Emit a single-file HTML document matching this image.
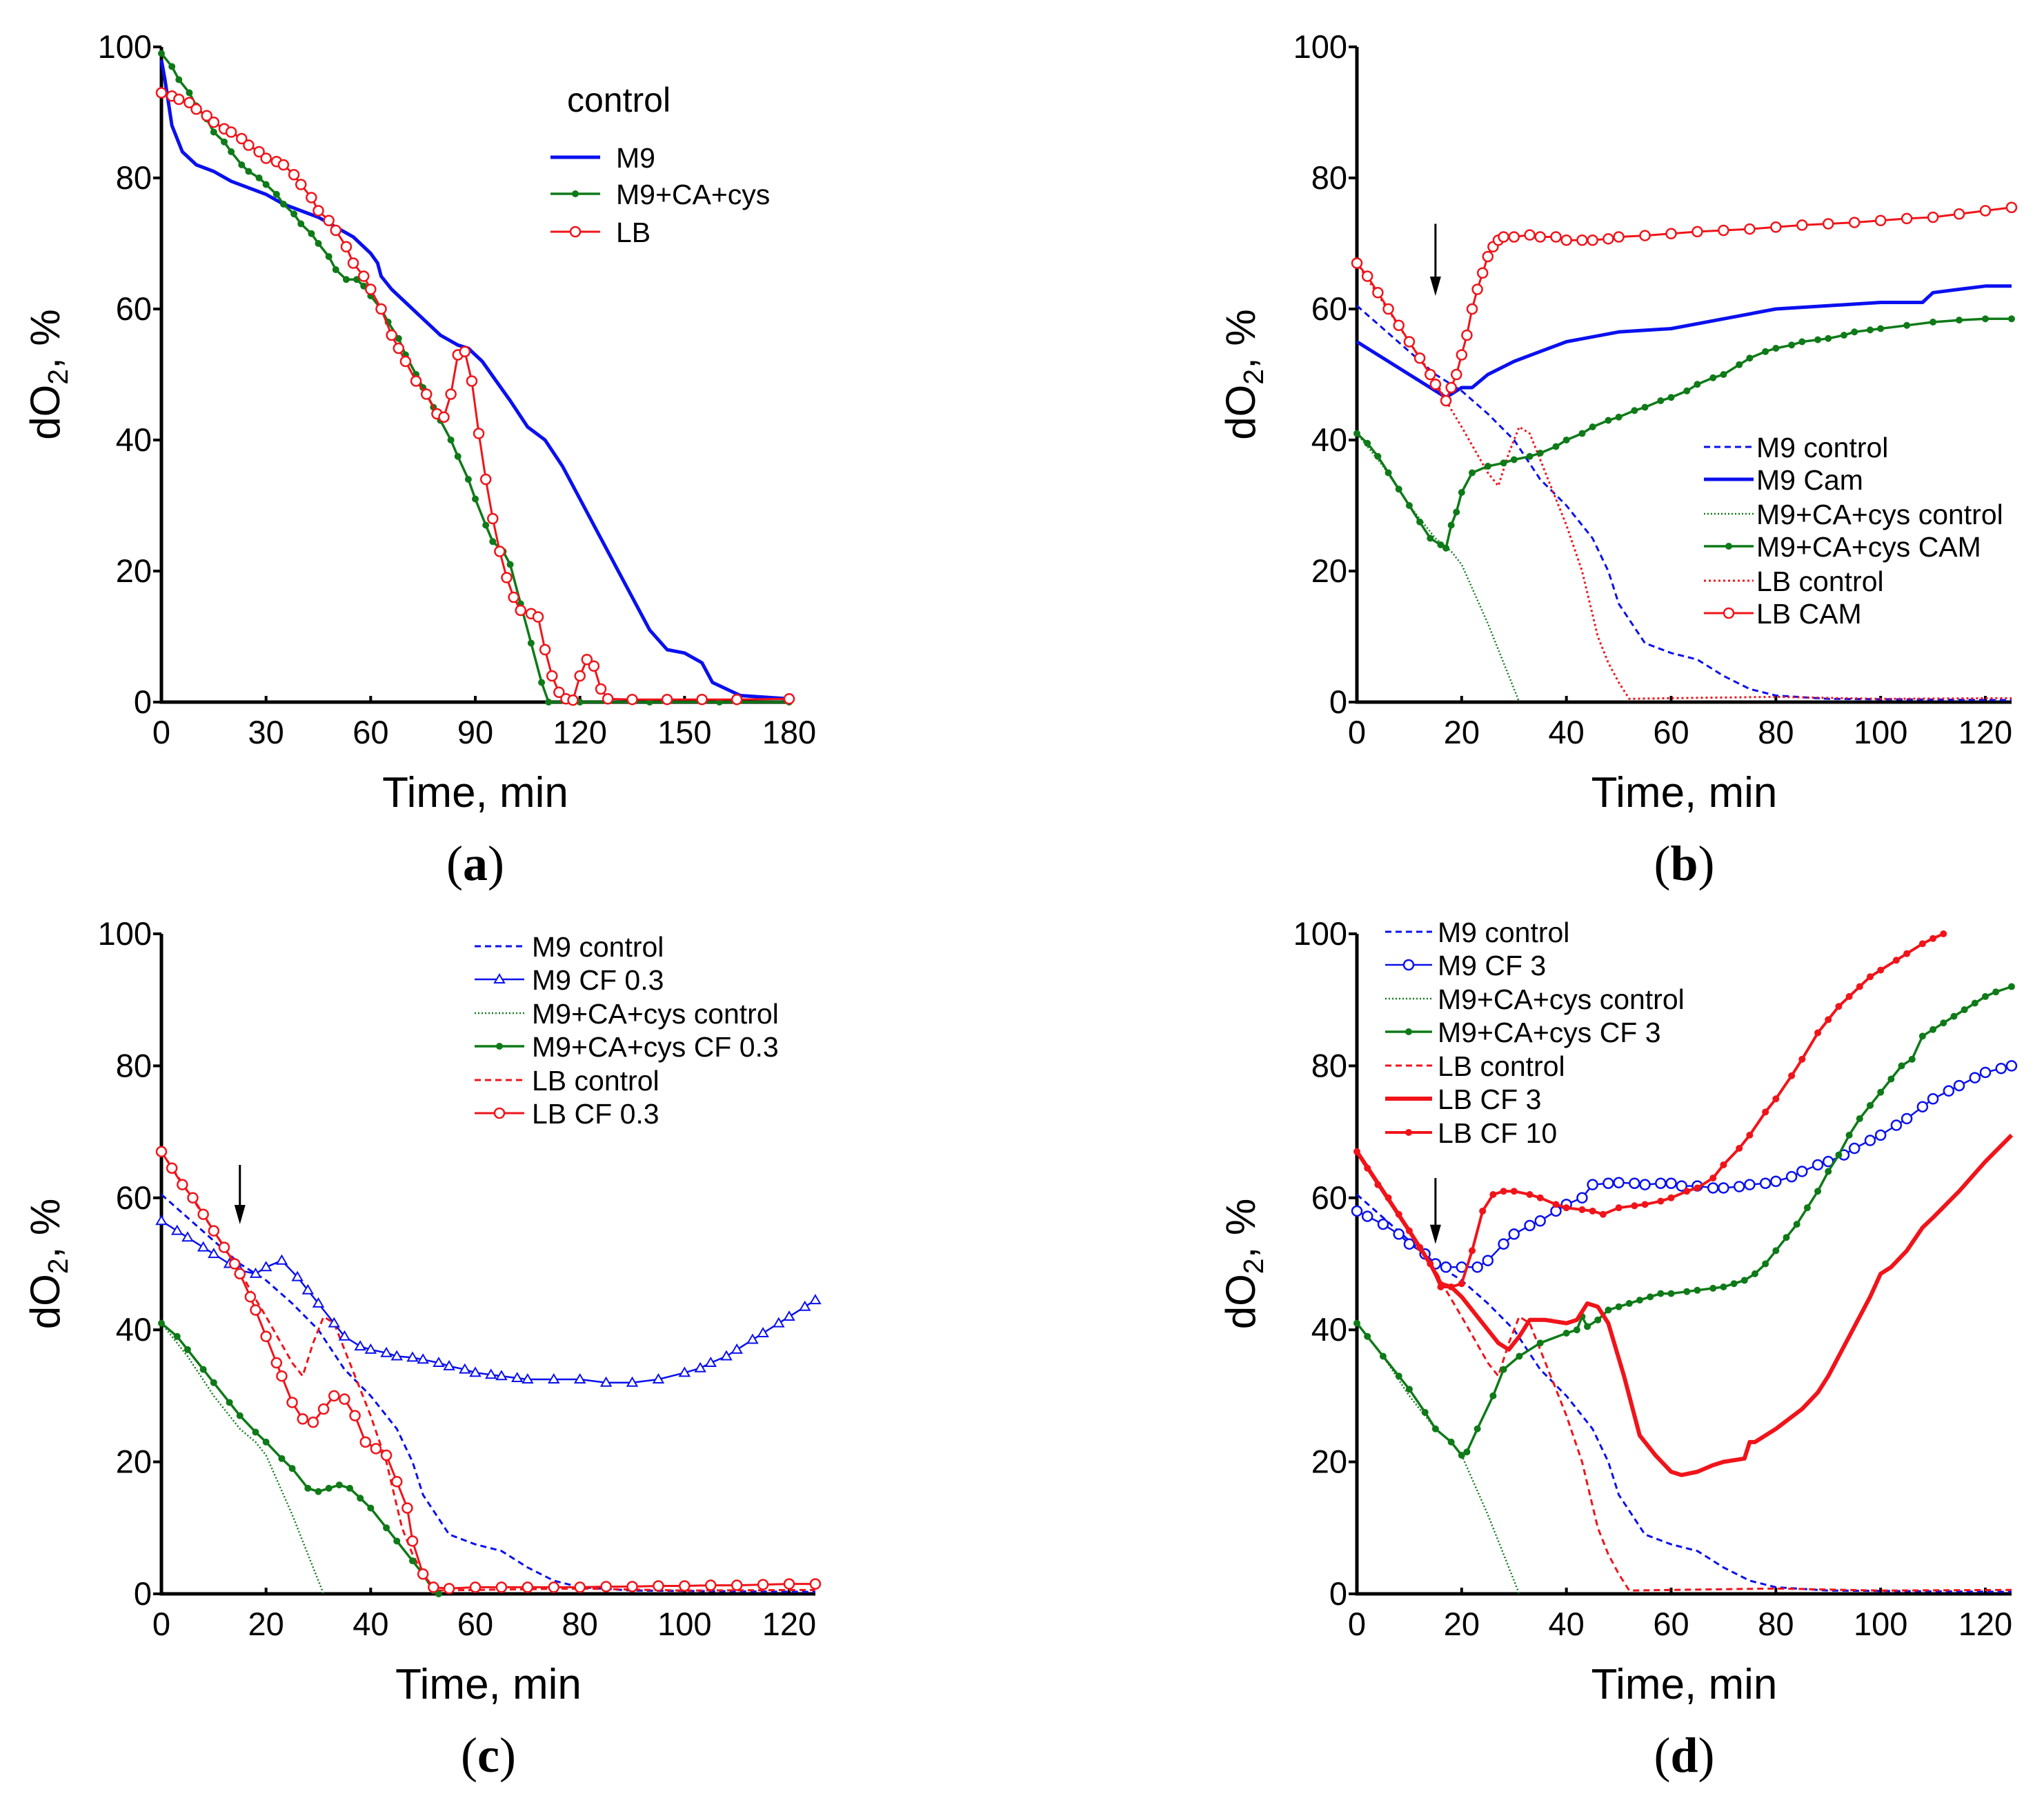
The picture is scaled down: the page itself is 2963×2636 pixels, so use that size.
<!DOCTYPE html>
<html><head><meta charset="utf-8"><style>
html,body{margin:0;padding:0;background:#fff;}
svg{display:block;font-family:"Liberation Sans",Arial,sans-serif;}
</style></head><body>
<svg id="chart" width="2963" height="2636" viewBox="0 0 2963 2636" xmlns="http://www.w3.org/2000/svg"></svg>
<script>
// ---------- data (time min, dO2 %) ----------
const aM9=[[0,98],[1,95],[3,88],[6,84],[10,82],[15,81],[20,79.5],[25,78.5],[30,77.5],[35,76],[40,75],[45,74],[50,72.5],[55,71],[60,68.5],[62,67],[63,65],[66,63],[70,61],[75,58.5],[80,56],[85,54.5],[88,54],[92,52],[96,49],[100,46],[105,42],[110,40],[115,36],[120,31],[125,26],[130,21],[135,16],[140,11],[145,8],[150,7.5],[155,6],[158,3],[162,2],[166,1],[180,0.5]];
const aGreen=[[0,99],[3,97],[5,95],[8,93],[10,91],[13,89],[15,87],[18,85.5],[20,84],[23,82],[25,81],[28,80],[30,79],[33,77.5],[35,76],[38,74.5],[40,73],[43,71.5],[45,70],[48,68],[50,66],[53,64.5],[56,64.5],[58,63.5],[60,62],[63,60],[65,58],[68,55.5],[70,53],[73,50],[75,48],[78,45],[80,43],[83,40],[85,37.5],[88,34],[90,31],[93,27],[95,24.5],[98,23],[100,21],[103,15],[106,9],[109,3],[111,0],[120,0],[140,0],[160,0],[180,0]];
const aLB=[[0,93],[3,92.5],[5,92],[8,91.5],[10,90.5],[13,89.5],[15,88.5],[18,87.5],[20,87],[23,86],[25,85],[28,84],[30,83],[33,82.5],[35,82],[38,80.5],[40,79],[43,77],[45,75],[48,73.5],[50,72],[53,69.5],[55,67],[58,65],[60,63],[63,60],[66,56],[68,54],[70,52],[73,49],[76,47],[79,44],[81,43.5],[83,47],[85,53],[87,53.5],[89,49],[91,41],[93,34],[95,28],[97,23],[99,19],[101,16],[103,14],[106,13.5],[108,13],[110,8],[112,4],[114,1.5],[116,0.5],[118,0.3],[120,4],[122,6.5],[124,5.5],[126,2],[128,0.5],[135,0.4],[145,0.4],[155,0.4],[165,0.4],[180,0.5]];

const m9Control=[[0,60.5],[5,57],[10,53.5],[15,50],[20,47.5],[25,44],[30,40],[35,34],[40,30],[45,25],[48,20],[50,15],[55,9],[60,7.5],[65,6.5],[70,4],[75,2],[80,1],[90,0.5],[125,0.3]];
const greenControl=[[0,41],[5,36],[10,30],[15,25],[18,23],[20,21],[25,12],[28,6],[30,2],[31,0]];
const lbControl=[[0,67],[5,61],[10,55],[15,49],[17,46],[20,42],[25,35],[27,33],[29,38],[31,42],[33,41],[36,35],[40,27],[43,20],[46,10],[48,6],[50,3],[52,0.5],[60,0.6],[80,0.8],[100,0.5],[125,0.6]];

const bM9Cam=[[0,55],[5,52.5],[10,50],[15,47.5],[17,46.5],[20,48],[22,48],[25,50],[30,52],[35,53.5],[40,55],[50,56.5],[60,57],[70,58.5],[80,60],[90,60.5],[100,61],[108,61],[110,62.5],[115,63],[120,63.5],[125,63.5]];
const bGreenCam=[[0,41],[2,39.5],[4,37.5],[6,35],[8,32.5],[10,30],[12,27.5],[14,25],[16,24],[17,23.5],[18,27],[19,29],[20,32],[22,35],[25,36],[28,36.5],[30,37],[33,37.5],[35,38],[38,39],[40,40],[43,41],[45,42],[48,43],[50,43.5],[53,44.5],[55,45],[58,46],[60,46.5],[63,47.5],[65,48.5],[68,49.5],[70,50],[73,51.5],[75,52.5],[78,53.5],[80,54],[83,54.5],[85,55],[88,55.3],[90,55.5],[93,56],[95,56.5],[98,56.8],[100,57],[105,57.5],[110,58],[115,58.3],[120,58.5],[125,58.5]];
const bLBCam=[[0,67],[2,65],[4,62.5],[6,60],[8,57.5],[10,55],[12,52.5],[14,50],[15,48.5],[17,46],[18,48],[19,50],[20,53],[21,56],[22,60],[23,63],[24,65.5],[25,68],[26,69.5],[27,70.5],[28,71],[30,71],[33,71.3],[35,71],[38,71],[40,70.5],[43,70.5],[45,70.5],[48,70.7],[50,71],[55,71.2],[60,71.5],[65,71.8],[70,72],[75,72.2],[80,72.5],[85,72.8],[90,73],[95,73.2],[100,73.5],[105,73.8],[110,74],[115,74.5],[120,75],[125,75.5]];

const cM9CF=[[0,56.5],[3,55],[5,54],[8,52.5],[10,51.5],[13,50],[15,49],[18,48.5],[20,49.5],[23,50.5],[26,48],[28,46],[30,44],[33,41],[35,39],[38,37.5],[40,37],[43,36.5],[45,36],[48,35.8],[50,35.5],[53,35],[55,34.5],[58,34],[60,33.5],[63,33.2],[65,33],[68,32.7],[70,32.5],[75,32.5],[80,32.5],[85,32],[90,32],[95,32.5],[100,33.5],[103,34.2],[105,35],[108,36],[110,37],[113,38.5],[115,39.5],[118,41],[120,42],[123,43.5],[125,44.5]];
const cGreenCF=[[0,41],[3,39],[5,37],[8,34],[10,32],[13,29],[15,27],[18,24.5],[20,23],[23,20.5],[25,19],[28,16],[30,15.5],[32,16],[34,16.5],[36,16],[38,14.5],[40,13],[43,10],[45,8],[48,5],[50,3],[52,0.5],[53,0]];
const cLBCF=[[0,67],[2,64.5],[4,62],[6,60],[8,57.5],[10,55],[12,52.5],[14,50],[15,48.5],[17,45],[18,43],[20,39],[22,35],[23,33],[25,29],[27,26.5],[29,26],[31,28],[33,30],[35,29.5],[37,27],[39,23],[41,22],[43,21],[45,17],[47,13],[48,8],[50,3],[52,1],[55,0.8],[60,1],[65,1],[70,1],[75,1],[80,1],[85,1.1],[90,1.1],[95,1.2],[100,1.2],[105,1.3],[110,1.3],[115,1.4],[120,1.5],[125,1.5]];

const dM9CF=[[0,58],[2,57.2],[5,56],[8,54.5],[10,53],[13,51.5],[15,50],[17,49.5],[20,49.5],[23,49.5],[25,50.5],[28,53],[30,54.5],[33,55.8],[35,56.5],[38,58],[40,59],[43,60],[45,62],[48,62.2],[50,62.3],[53,62.2],[55,62],[58,62.2],[60,62.2],[62,61.8],[65,61.8],[68,61.5],[70,61.5],[73,61.7],[75,62],[78,62.2],[80,62.5],[83,63.2],[85,64],[88,65],[90,65.5],[93,66.5],[95,67.5],[98,68.7],[100,69.5],[103,71],[105,72],[108,73.8],[110,75],[113,76.2],[115,77],[118,78.2],[120,79],[123,79.6],[125,80]];
const dGreenCF=[[0,41],[2,39],[5,36],[8,33],[10,31],[13,27.5],[15,25],[18,23],[20,21],[21,21.5],[23,25],[26,30],[28,34],[31,36],[35,38],[40,39.5],[42,40],[43,42],[44,40.5],[46,41.5],[48,43],[50,43.5],[52,44],[54,44.5],[56,45],[58,45.5],[60,45.5],[63,45.8],[65,46],[68,46.3],[70,46.5],[72,47],[74,47.5],[76,48.5],[78,50],[80,52],[82,54],[84,56],[86,58.5],[88,61],[90,64],[92,66.5],[94,69.5],[96,72],[98,74],[100,76],[102,78],[104,80],[106,81],[108,84.5],[110,85.5],[112,86.5],[114,87.5],[116,88.5],[118,89.5],[120,90.5],[122,91.2],[125,92]];
const dLBCF3=[[0,67],[5,61],[10,55],[14,50],[16,47],[18,46.5],[20,45],[24,41],[27,38],[29,37],[31,39],[33,41.5],[36,41.5],[40,41],[42,41.5],[44,44],[46,43.5],[48,41],[51,33],[54,24],[57,21],[60,18.5],[62,18],[65,18.5],[68,19.5],[70,20],[74,20.5],[75,23],[76,23],[80,25],[85,28],[88,30.5],[90,33],[94,39],[98,45],[100,48.5],[102,49.5],[105,52],[108,55.5],[110,57],[115,61],[120,65.5],[125,69.5]];
const dLBCF10=[[0,67],[2,64.5],[4,62],[6,60],[8,57.5],[10,55],[12,52.5],[14,50],[16,46.5],[18,46.5],[20,47],[22,52],[24,58],[26,60.5],[28,61],[30,61],[33,60.5],[35,60],[38,59],[40,58.5],[43,58.2],[45,58],[47,57.5],[50,58.5],[53,58.8],[55,59],[58,59.5],[60,60],[63,61],[65,61.5],[68,63],[70,65],[73,67.5],[75,69.5],[78,73],[80,75],[83,78.5],[85,81],[88,85],[90,87],[92,89],[94,90.5],[96,92],[98,93.5],[100,94.5],[103,96],[105,97],[108,98.5],[110,99.3],[112,100]];

const ticksA=[0,30,60,90,120,150,180];
const ticksB=[0,20,40,60,80,100,120];
const ticksY=[0,20,40,60,80,100];

// ---------- drawing ----------
const NS="http://www.w3.org/2000/svg";
const svg=document.getElementById('chart');
function mk(tag,attrs,parent){const e=document.createElementNS(NS,tag);for(const k in attrs)e.setAttribute(k,attrs[k]);(parent||svg).appendChild(e);return e;}

const BLUE="#0a10ee",GREEN="#0e7a18",RED="#f0141a";

function panel(p){
  const g=mk('g',{});
  
  
  const sx=t=>p.x0+(t-0)*(p.x1-p.x0)/p.tmax;
  const sy=v=>p.y0-(v/100)*(p.y0-p.y100);
  p.sx=sx;p.sy=sy;p.g=g;
  p.xt.forEach(t=>{
    const l=mk('line',{x1:sx(t),x2:sx(t),y1:p.y0,y2:p.y0-9,stroke:'#000','stroke-width':4},g);
    
    const tx=mk('text',{x:sx(t),y:p.y0+60,'font-size':47,'text-anchor':'middle',fill:'#000'},g);
    tx.textContent=t;
    
  });
  ticksY.forEach(v=>{
    const l=mk('line',{x1:p.x0-12,x2:p.x0,y1:sy(v),y2:sy(v),stroke:'#000','stroke-width':4},g);
    
    const tx=mk('text',{x:p.x0-14,y:sy(v)+16,'font-size':47,'text-anchor':'end',fill:'#000'},g);
    tx.textContent=v;
    
  });
  const ax=mk('path',{d:`M${p.x0},${p.y100} L${p.x0},${p.y0} L${p.xend},${p.y0}`,fill:'none',stroke:'#000','stroke-width':5},g);
  
  const xt=mk('text',{x:(p.x0+p.xend)/2,y:p.y0+152,'font-size':62,'text-anchor':'middle',fill:'#000'},g);
  xt.textContent='Time, min';
  
  const cy=(p.y0+p.y100)/2;
  const yx=p.x0-148;
  const yt=mk('text',{x:yx,y:cy,'font-size':60,'text-anchor':'middle',fill:'#000',transform:`rotate(-90 ${yx} ${cy})`},g);
  yt.innerHTML='dO<tspan font-size="41" dy="12">2</tspan><tspan dy="-12">, %</tspan>';
  
  const lab=mk('text',{x:(p.x0+p.xend)/2,y:p.y0+258,'font-size':72,'text-anchor':'middle',fill:'#000','font-family':'Liberation Serif, serif'},g);
  lab.innerHTML='(<tspan font-weight="bold">'+p.id+'</tspan>)';
  
  return p;
}

function series(p,data,st,name){
  const d=data.map((q,i)=>(i?'L':'M')+p.sx(q[0]).toFixed(1)+','+p.sy(q[1]).toFixed(1)).join(' ');
  const g=mk('g',{},p.g);
  
  
  mk('path',{d:d,fill:'none',stroke:st.c,'stroke-width':st.w||3.5,'stroke-dasharray':st.dash||'none','stroke-linejoin':'round'},g);
  if(st.m) data.forEach(q=>marker(g,p.sx(q[0]),p.sy(q[1]),st));
}
function marker(g,x,y,st){
  if(st.m==='o'){const e=mk('circle',{cx:x,cy:y,r:7,fill:'#fff',stroke:st.c,'stroke-width':2.5},g);}
  else if(st.m==='.'){const e=mk('circle',{cx:x,cy:y,r:5,fill:st.c},g);}
  else if(st.m==='^'){const e=mk('path',{d:`M${x},${y-7} L${x+7},${y+5} L${x-7},${y+5} Z`,fill:'#fff',stroke:st.c,'stroke-width':2},g);}
}
function legend(p,items,lx,tx,ys){
  const g=mk('g',{},p.g);
  
  
  items.forEach((it,i)=>{
    const y=ys[i];
    const e=mk('g',{},g);
    
    
    mk('line',{x1:lx[0],x2:lx[1],y1:y,y2:y,stroke:it.st.c,'stroke-width':it.st.w||3.5,'stroke-dasharray':it.st.dash||'none'},e);
    if(it.st.m) marker(e,(lx[0]+lx[1])/2,y,it.st);
    const t=mk('text',{x:tx,y:y+15,'font-size':41,fill:'#000'},e);
    t.textContent=it.label;
  });
}
function arrow(p,t,vTop,vBot){
  const x=p.sx(t);
  const g=mk('g',{},p.g);
  
  
  mk('line',{x1:x,x2:x,y1:p.sy(vTop),y2:p.sy(vBot)-10,stroke:'#000','stroke-width':3},g);
  mk('path',{d:`M${x-8},${p.sy(vBot)-28} L${x},${p.sy(vBot)} L${x+8},${p.sy(vBot)-28} Z`,fill:'#000'},g);
}

const S={
  blueSolid:{c:BLUE,w:5}, blueDash:{c:BLUE,w:3,dash:'9 6'},
  greenDot:{c:GREEN,w:3.5,m:'.'}, greenDotted:{c:GREEN,w:2.5,dash:'2 3'},
  redO:{c:RED,w:3,m:'o'}, redDotted:{c:RED,w:3,dash:'3 4'}, redDash:{c:RED,w:3,dash:'9 6'},
  blueO:{c:BLUE,w:2.5,m:'o'}, blueTri:{c:BLUE,w:2.5,m:'^'},
  redThick:{c:RED,w:6}, redDots:{c:RED,w:4,m:'.'}
};

// Panel a
const pa=panel({id:'a',x0:234,x1:1144,xend:1144,tmax:180,y0:1018,y100:68,xt:ticksA});
series(pa,aM9,S.blueSolid,'series-m9');
series(pa,aGreen,S.greenDot,'series-m9-ca-cys');
series(pa,aLB,S.redO,'series-lb');
const ct=mk('text',{x:822,y:162,'font-size':50,fill:'#000'},pa.g);ct.textContent='control';

legend(pa,[{label:'M9',st:S.blueSolid},{label:'M9+CA+cys',st:S.greenDot},{label:'LB',st:S.redO}],[798,870],893,[228,281,336]);

// Panel b
const pb=panel({id:'b',x0:1967,x1:2878,xend:2916,tmax:120,y0:1018,y100:68,xt:ticksB});
series(pb,m9Control,S.blueDash,'series-m9-control');
series(pb,greenControl,S.greenDotted,'series-m9-ca-cys-control');
series(pb,lbControl,S.redDotted,'series-lb-control');
series(pb,bM9Cam,S.blueSolid,'series-m9-cam');
series(pb,bGreenCam,S.greenDot,'series-m9-ca-cys-cam');
series(pb,bLBCam,S.redO,'series-lb-cam');
arrow(pb,15,73,62);
legend(pb,[{label:'M9 control',st:S.blueDash},{label:'M9 Cam',st:S.blueSolid},{label:'M9+CA+cys control',st:S.greenDotted},{label:'M9+CA+cys CAM',st:S.greenDot},{label:'LB control',st:S.redDotted},{label:'LB CAM',st:S.redO}],[2470,2542],2546,[648,695,745,792,842,889]);

// Panel c
const pc=panel({id:'c',x0:234,x1:1144,xend:1182,tmax:120,y0:2311,y100:1354,xt:ticksB});
series(pc,m9Control,S.blueDash,'series-m9-control');
series(pc,greenControl,S.greenDotted,'series-m9-ca-cys-control');
series(pc,lbControl,S.redDash,'series-lb-control');
series(pc,cM9CF,S.blueTri,'series-m9-cf-0.3');
series(pc,cGreenCF,S.greenDot,'series-m9-ca-cys-cf-0.3');
series(pc,cLBCF,S.redO,'series-lb-cf-0.3');
arrow(pc,15,65,56);
legend(pc,[{label:'M9 control',st:S.blueDash},{label:'M9 CF 0.3',st:S.blueTri},{label:'M9+CA+cys control',st:S.greenDotted},{label:'M9+CA+cys CF 0.3',st:S.greenDot},{label:'LB control',st:S.redDash},{label:'LB CF 0.3',st:S.redO}],[688,760],771,[1372,1420,1469,1517,1566,1614]);

// Panel d
const pd=panel({id:'d',x0:1967,x1:2878,xend:2916,tmax:120,y0:2311,y100:1354,xt:ticksB});
series(pd,m9Control,S.blueDash,'series-m9-control');
series(pd,greenControl,S.greenDotted,'series-m9-ca-cys-control');
series(pd,lbControl,S.redDash,'series-lb-control');
series(pd,dM9CF,S.blueO,'series-m9-cf-3');
series(pd,dGreenCF,S.greenDot,'series-m9-ca-cys-cf-3');
series(pd,dLBCF3,S.redThick,'series-lb-cf-3');
series(pd,dLBCF10,S.redDots,'series-lb-cf-10');
arrow(pd,15,63,53);
legend(pd,[{label:'M9 control',st:S.blueDash},{label:'M9 CF 3',st:S.blueO},{label:'M9+CA+cys control',st:S.greenDotted},{label:'M9+CA+cys CF 3',st:S.greenDot},{label:'LB control',st:S.redDash},{label:'LB CF 3',st:S.redThick},{label:'LB CF 10',st:S.redDots}],[2008,2076],2084,[1351,1399,1448,1496,1545,1593,1642]);
</script>
</body></html>
